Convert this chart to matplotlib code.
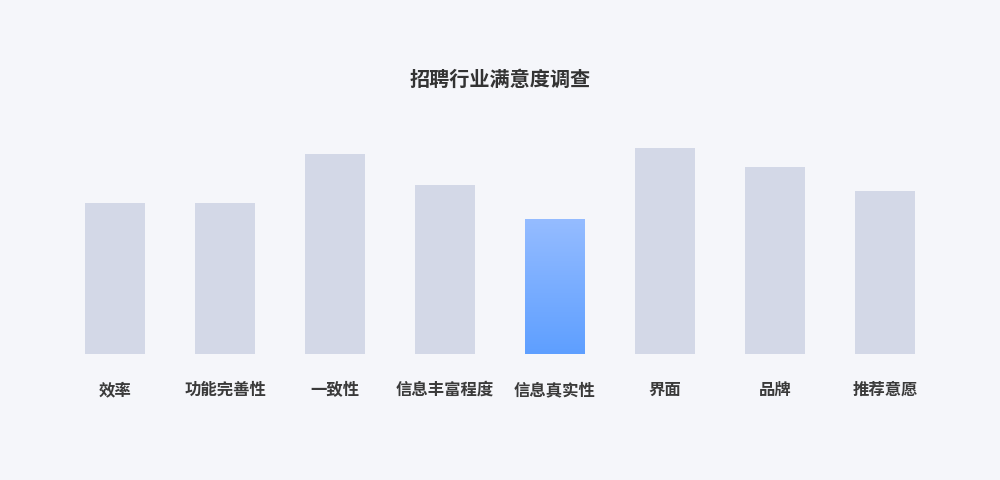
import numpy as np
import matplotlib.pyplot as plt
from matplotlib.colors import LinearSegmentedColormap

plt.rcParams['font.family'] = ['Noto Sans CJK SC', 'DejaVu Sans']

categories = ['效率', '功能完善性', '一致性', '信息丰富程度', '信息真实性', '界面', '品牌', '推荐意愿']
values = [151, 151, 200, 169, 135, 206, 187, 163]
highlight = 4

bg = '#f5f6fa'
fig = plt.figure(figsize=(10, 4.8), dpi=100, facecolor=bg)
ax = fig.add_axes([0.06, 0.2625, 0.88, 220 / 480])
ax.set_facecolor(bg)

x = np.arange(len(categories))
bars = ax.bar(x, values, width=60 / 110, color='#d3d8e7', zorder=2)

# gradient for the highlighted bar
b = bars[highlight]
b.set_facecolor('none')
cmap = LinearSegmentedColormap.from_list('hl', ['#5e9fff', '#95bcff'])
grad = np.linspace(0, 1, 256).reshape(-1, 1)
im = ax.imshow(grad, cmap=cmap, aspect='auto', origin='lower',
               extent=[b.get_x(), b.get_x() + b.get_width(), 0, b.get_height()], zorder=3)
im.set_clip_path(b)
ax.set_xlim(-0.5, len(categories) - 0.5)
ax.set_ylim(0, 220)

for s in ax.spines.values():
    s.set_visible(False)
ax.set_yticks([])
ax.set_xticks(x)
ax.set_xticklabels(categories, fontsize=11.8, color='#3a3a3a', fontweight='bold')
ax.tick_params(axis='x', length=0, pad=19.5)

fig.text(0.5, 1 - 79 / 480, '招聘行业满意度调查', ha='center', va='center',
         fontsize=14.5, fontweight='bold', color='#333333')

fig.savefig('out.png', dpi=100, facecolor=bg)
